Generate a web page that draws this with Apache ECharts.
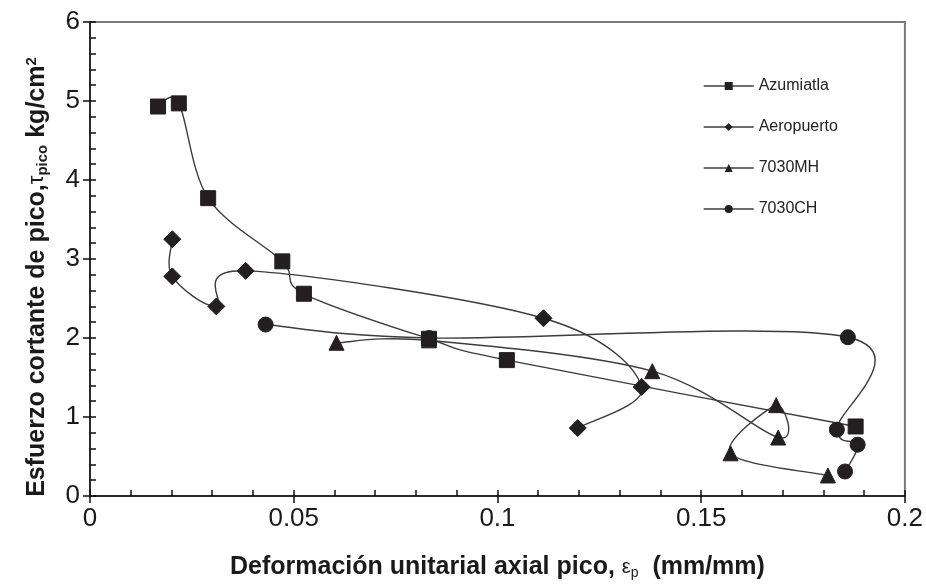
<!DOCTYPE html>
<html><head><meta charset="utf-8">
<script src="https://cdn.jsdelivr.net/npm/echarts@6/dist/echarts.min.js"></script>
<style>html,body{margin:0;padding:0;background:#fff}#c{width:926px;height:585px}</style>
</head><body><div id="c"></div>
<script>
const seriesNames = ['Azumiatla', 'Aeropuerto', '7030MH', '7030CH'];
const azumiatlaX = [0.0167, 0.0218, 0.0290, 0.0472, 0.0525, 0.0832, 0.1023, 0.1879];
const azumiatlaY = [4.93, 4.97, 3.77, 2.97, 2.56, 1.99, 1.72, 0.88];
const aeropuertoX = [0.0202, 0.0202, 0.0310, 0.0382, 0.1113, 0.1354, 0.1197];
const aeropuertoY = [3.25, 2.78, 2.40, 2.85, 2.25, 1.38, 0.86];
const mhX = [0.0605, 0.0832, 0.1380, 0.1689, 0.1684, 0.1572, 0.1811];
const mhY = [1.94, 1.97, 1.58, 0.74, 1.15, 0.54, 0.26];
const chX = [0.0431, 0.0832, 0.1860, 0.1833, 0.1884, 0.1853];
const chY = [2.17, 2.00, 2.01, 0.84, 0.65, 0.31];
const xTicks = [0, 0.05, 0.1, 0.15, 0.2];
const yTicks = [0, 1, 2, 3, 4, 5, 6];

const zip = (xs, ys) => xs.map((x, i) => [x, ys[i]]);
const FONT = '"Liberation Sans", Arial, sans-serif';
const mark = '#231f20';
const lineC = '#3c3c3c';

function markers(name, xs, ys, symbol, size) {
  return {
    name, type: 'line', data: zip(xs, ys), smooth: false,
    symbol, symbolSize: size, showAllSymbol: true,
    itemStyle: { color: mark, borderColor: mark },
    lineStyle: { color: lineC, width: 1.4, opacity: 0 },
    z: 4
  };
}
// Excel-style smoothed connecting curve (Catmull-Rom Bezier), through the axis scales
function curve(name, xs, ys) {
  const n = xs.length;
  return {
    name: name + ' curve', type: 'custom', data: zip(xs, ys), z: 3, silent: true,
    encode: { x: 0, y: 1 },
    renderItem: function (params, api) {
      const i = params.dataIndex;
      if (i >= n - 1) return { type: 'group', children: [] };
      const P = j => { j = Math.max(0, Math.min(n - 1, j)); return api.coord([xs[j], ys[j]]); };
      const p0 = P(i - 1), p1 = P(i), p2 = P(i + 1), p3 = P(i + 2);
      const t = 1 / 6;
      return {
        type: 'bezierCurve',
        shape: {
          x1: p1[0], y1: p1[1], x2: p2[0], y2: p2[1],
          cpx1: p1[0] + (p2[0] - p0[0]) * t, cpy1: p1[1] + (p2[1] - p0[1]) * t,
          cpx2: p2[0] - (p3[0] - p1[0]) * t, cpy2: p2[1] - (p3[1] - p1[1]) * t
        },
        style: { stroke: lineC, lineWidth: 1.4, fill: null }
      };
    }
  };
}

const chart = echarts.init(document.getElementById('c'), null, { renderer: 'canvas' });
const tickLbl = { fontFamily: FONT, fontSize: 26, color: '#1a1a1a' };
chart.setOption({
  animation: false,
  backgroundColor: '#fff',
  grid: { left: 90, right: 20, top: 22, bottom: 87, show: true, borderColor: '#7a7a7a', borderWidth: 2, backgroundColor: 'transparent' },
  legend: {
    orient: 'vertical', left: 698, top: 73, itemWidth: 50, itemHeight: 10, itemGap: 25,
    data: seriesNames,
    lineStyle: { color: lineC, width: 1.4, opacity: 1 },
    textStyle: { fontFamily: FONT, fontSize: 16, color: '#222' }
  },
  xAxis: [{
    type: 'value', min: 0, max: 0.2, interval: 0.05, position: 'bottom',
    axisLine: { lineStyle: { color: '#111', width: 1.5 } },
    axisTick: { show: true, inside: false, length: 7, lineStyle: { color: '#111', width: 1.5 } },
    splitLine: { show: false },
    axisLabel: Object.assign({ margin: 10, formatter: v => xTicks.includes(+v.toFixed(2)) ? String(+v.toFixed(2)) : '' }, tickLbl),
    name: 'Deformación unitarial axial pico, {e|ε}{s|p}  (mm/mm)',
    nameLocation: 'middle', nameGap: 59,
    nameTextStyle: { fontFamily: FONT, fontSize: 25, fontWeight: 'bold', color: '#1a1a1a',
      rich: { e: { fontFamily: FONT, fontSize: 20, fontWeight: 'normal', color: '#1a1a1a' },
              s: { fontFamily: FONT, fontSize: 14, fontWeight: 'normal', color: '#1a1a1a', verticalAlign: 'bottom', padding: [11, 0, 0, 0] } } }
  }, {
    type: 'value', min: 0, max: 0.2, interval: 0.05, position: 'bottom', gridIndex: 0,
    axisLine: { show: false },
    axisTick: { show: true, inside: true, length: 6, lineStyle: { color: '#111', width: 1.5 } },
    minorTick: { show: true, splitNumber: 5, length: 6, lineStyle: { color: '#111', width: 1.5 } },
    axisLabel: { show: false }, splitLine: { show: false }
  }],
  yAxis: [{
    type: 'value', min: 0, max: 6, interval: 1, position: 'left',
    axisLine: { lineStyle: { color: '#111', width: 1.5 } },
    axisTick: { show: true, inside: false, length: 7, lineStyle: { color: '#111', width: 1.5 } },
    splitLine: { show: false },
    axisLabel: Object.assign({ margin: 10, formatter: v => yTicks.includes(v) ? String(v) : '' }, tickLbl),
    name: 'Esfuerzo cortante de pico,{t|τ}{s|pico} kg/cm{p|2}',
    nameLocation: 'middle', nameGap: 40, nameRotate: 90,
    nameTextStyle: { fontFamily: FONT, fontSize: 25, fontWeight: 'bold', color: '#1a1a1a', padding: [0, 36, 0, 0],
      rich: { t: { fontFamily: FONT, fontSize: 22, fontWeight: 'normal', color: '#1a1a1a' },
              s: { fontFamily: FONT, fontSize: 15, fontWeight: 'bold', color: '#1a1a1a', verticalAlign: 'bottom', padding: [11, 0, 0, 0] },
              p: { fontFamily: FONT, fontSize: 15, fontWeight: 'bold', color: '#1a1a1a', verticalAlign: 'top', padding: [0, 0, 11, 0] } } }
  }, {
    type: 'value', min: 0, max: 6, interval: 1, position: 'left', gridIndex: 0,
    axisLine: { show: false },
    axisTick: { show: true, inside: true, length: 6, lineStyle: { color: '#111', width: 1.5 } },
    minorTick: { show: true, splitNumber: 5, length: 6, lineStyle: { color: '#111', width: 1.5 } },
    axisLabel: { show: false }, splitLine: { show: false }
  }],
  series: [
    markers(seriesNames[0], azumiatlaX, azumiatlaY, 'rect', 15),
    markers(seriesNames[1], aeropuertoX, aeropuertoY, 'diamond', 17),
    markers(seriesNames[2], mhX, mhY, 'triangle', 15),
    markers(seriesNames[3], chX, chY, 'circle', 15),
    curve(seriesNames[0], azumiatlaX, azumiatlaY),
    curve(seriesNames[1], aeropuertoX, aeropuertoY),
    curve(seriesNames[2], mhX, mhY),
    curve(seriesNames[3], chX, chY)
  ]
});
</script></body></html>
